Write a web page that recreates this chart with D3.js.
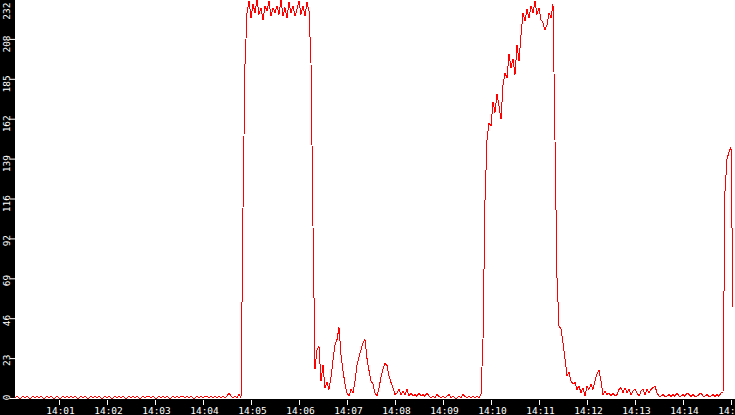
<!DOCTYPE html>
<html>
<head>
<meta charset="utf-8">
<script src="https://cdn.jsdelivr.net/npm/d3@7"></script>
<style>
  body { margin: 0; background: #fff; }
  svg { display: block; }
</style>
</head>
<body>
<div id="chart"></div>
<script>
// load samples, one every 2.5 s starting at 14:00:05
var idle1 = [
  0,1,0,0,1,0,1,0,0,1,
  0,1,0,1,0,0,1,0,1,0,
  0,1,0,0,1,0,1,0,1,0,
  1,0,0,1,0,1,0,0,1,0,
  1,0,1,0,0,1,0,1,0,0,
  1,0,1,0,1,0,0,1,0,1,
  0,1,0,0,1,0,1,1,0,1,
  0,0,1,0,1,0,1,0,0,1,
  0,1,0,1,1,0,1,0,1,0,
  0,1,0,1,0,1,1,0,1,0,
  1,0,1,0,1,0,1,3,1,0,
  1,0,2,0
];
var burst1 = [
  110,194,
  224,231,221,229,224,232,223,227,220,228,225,231,222,227,
  224,228,223,232,222,227,221,230,224,228,222,226,231,223,228,222,
  230,225,
  195,100,17
];
var tail1 = [
  28,30,10,19,6,9,5,12,22,31,
  34,41,25,16,8,3,1,5,3,10,
  19,24,28,32,34,23,16,10,8,3,
  1,6,12,17,20,19,13,9,6,2,
  3,5,2,4,2,5,1,3,1,2,
  1,3,1,2,1,3,1
];
var idle2 = [0,1,0,2,1,0,1,0,1,2,0,1,0,0,1,0,2,1,0,1,0,1,0,1,0];
var burst2 = [
  2,34,115,150,160,158,172,166,177,170,
  162,182,189,186,200,192,197,188,205,196,
  211,224,219,226,221,228,224,231,223,227,
  220,218,214,217,224,221,229,150,70,42
];
var tail2 = [
  40,32,23,13,15,10,8,9,5,7,
  3,6,1,7,5,8,5,10,14,16,
  10,2,4,2,3,1,3,1,2,5,
  6,3,6,3,5,2,4,5,3,1,
  4,5,2,5,3,5,6,7,3,1,
  1,2,1,1,2,1,2,1,3,1,
  1,2,1,3,2,1,2,1,1,2,
  3,1,1,2,1,1,2,1,2,1,
  3
];
var burst3 = [3,120,139,143,146,53];

var yTickValues = [0, 23.2, 46.4, 69.6, 92.8, 116, 139.2, 162.4, 185.6, 208.8, 232];
var yTickLabels = ["0", "23", "46", "69", "92", "116", "139", "162", "185", "208", "232"];

var width = 735,
  height = 415,
  left = 15,
  bottom = 399;

var STEP_MS = 2500;
var start = new Date(2000, 0, 1, 14, 0, 5);
var end = new Date(2000, 0, 1, 14, 15, 5);

var load = idle1.concat(burst1, tail1, idle2, burst2, tail2, burst3);
var data = load.map(function(v, i) {
  return { time: new Date(start.getTime() + i * STEP_MS), value: v };
});

// scales
var xScale = d3.scaleTime()
  .domain([start, end])
  .range([left, width]);
var yScale = d3.scaleLinear()
  .domain([0, 232])
  .range([398, -1]);

var svg = d3.select("#chart")
  .append("svg")
  .attr("width", width)
  .attr("height", height);

svg.append("rect")
  .attr("width", width)
  .attr("height", height)
  .attr("fill", "#fff");

// the load line
svg.append("path")
  .datum(data)
  .attr("fill", "none")
  .attr("stroke", "#ff0000")
  .attr("stroke-width", 1)
  .style("shape-rendering", "crispEdges")
  .attr("d", d3.line()
    .x(function(d) { return xScale(d.time); })
    .y(function(d) { return yScale(d.value); }));

// black bands for the axes
svg.append("rect")
  .attr("x", 0)
  .attr("y", 0)
  .attr("width", left)
  .attr("height", height)
  .attr("fill", "#000");
svg.append("rect")
  .attr("x", 0)
  .attr("y", bottom)
  .attr("width", width)
  .attr("height", height - bottom)
  .attr("fill", "#000");

//Create Y axis
var yAxis = svg.append("g")
  .attr("transform", "translate(" + left + ",0)")
  .call(d3.axisLeft(yScale)
    .tickValues(yTickValues)
    .tickSize(5)
    .tickFormat(function(d, i) { return yTickLabels[i]; }));
yAxis.select(".domain").remove();
yAxis.selectAll("line").attr("stroke", "#fff");
yAxis.selectAll("text")
  .attr("fill", "#fff")
  .attr("x", 0)
  .attr("dy", 0)
  .attr("text-anchor", "end")
  .attr("transform", function(d) {
    var ty = yScale(d);
    var top = Math.max(ty - 4, 2);
    return "translate(-5.5," + (top - ty) + ") rotate(-90)";
  });

//Create X Axis
var xAxis = svg.append("g")
  .attr("transform", "translate(0," + (bottom + 1) + ")")
  .call(d3.axisBottom(xScale)
    .ticks(d3.timeMinute.every(1))
    .tickSize(5)
    .tickPadding(2)
    .tickFormat(d3.timeFormat("%H:%M")));
xAxis.select(".domain").remove();
xAxis.selectAll("line").attr("stroke", "#fff");
xAxis.selectAll("text")
  .attr("fill", "#fff")
  .attr("x", 1);

svg.selectAll("g")
  .attr("font-family", "'DejaVu Sans Mono', monospace")
  .attr("font-size", 9.5);
</script>
</body>
</html>
